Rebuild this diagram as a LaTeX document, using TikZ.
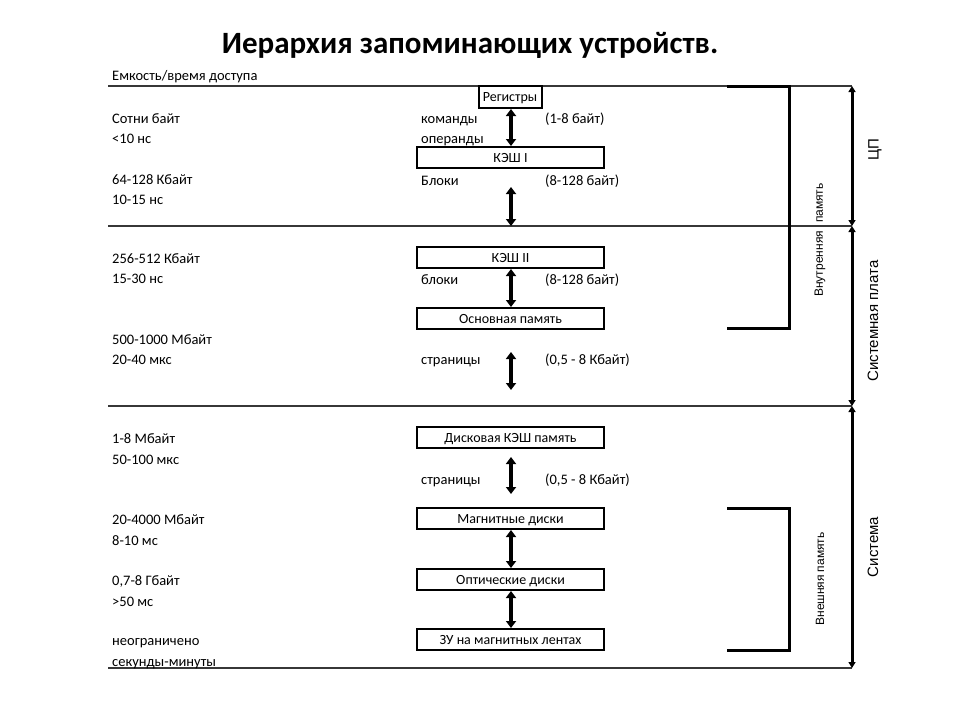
\documentclass[tikz,border=0pt]{standalone}
\usepackage{fontspec}
\setmainfont{Carlito}
\newfontfamily\arialfont{Liberation Sans}
\usepackage{tikz}
\usetikzlibrary{arrows.meta, positioning}
\definecolor{mydark}{RGB}{0,0,0}
\definecolor{mygray}{RGB}{55,55,55}
\tikzset{
  membox/.style={rectangle, draw=mydark, line width=2pt,
    minimum width=187pt, minimum height=21pt, inner sep=0pt,
    text height=11pt, text depth=2pt,
    font=\fontsize{14}{16}\selectfont},
  lbl/.style={anchor=base west, inner sep=0pt, font=\fontsize{14.5}{16}\selectfont},
  biarrow/.style={{Triangle[width=10pt,length=7pt]}-{Triangle[width=10pt,length=7pt]},
    line width=3.5pt, color=mydark},
  rangearrow/.style={{Triangle[width=7pt,length=6pt]}-{Triangle[width=7pt,length=6pt]},
    line width=3pt, color=mydark},
  tierline/.style={line width=1.2pt, color=mygray},
  bracket/.style={line width=3pt, color=mydark},
  sidetxt/.style={rotate=90, inner sep=0pt, font=\arialfont\fontsize{15}{17}\selectfont},
  subtxt/.style={rotate=90, inner sep=0pt, font=\arialfont\fontsize{12}{14}\selectfont}
}

\begin{document}
\begin{tikzpicture}[x=1pt, y=-1pt]
  \useasboundingbox (0,0) rectangle (960,720);

  \node[font=\bfseries\fontsize{31}{35}\selectfont] (title) at (470,45) {Иерархия запоминающих устройств.};
  \node[lbl] (head) at (112,80) {Емкость/время доступа};

  % levels
  \coordinate (cpuTop) at (852,86);
  \coordinate (cpuBot) at (852,226);
  \coordinate (brdBot) at (852,406);
  \coordinate (sysBot) at (852,668);
  \draw[tierline] (108,86) -- (cpuTop);
  \draw[tierline] (108,226) -- (cpuBot);
  \draw[tierline] (108,406) -- (brdBot);
  \draw[tierline] (108,668) -- (sysBot);

  % capacity / access time
  \node[lbl] (cap1) at (112,123) {Сотни байт};
  \node[lbl] (tim1) at (112,143) {<10 нс};
  \node[lbl] (cap2) at (112,184) {64-128 Кбайт};
  \node[lbl] (tim2) at (112,204) {10-15 нс};
  \node[lbl] (cap3) at (112,263) {256-512 Кбайт};
  \node[lbl] (tim3) at (112,283) {15-30 нс};
  \node[lbl] (cap4) at (112,344) {500-1000 Мбайт};
  \node[lbl] (tim4) at (112,364) {20-40 мкс};
  \node[lbl] (cap5) at (112,443) {1-8 Мбайт};
  \node[lbl] (tim5) at (112,464) {50-100 мкс};
  \node[lbl] (cap6) at (112,524) {20-4000 Мбайт};
  \node[lbl] (tim6) at (112,545) {8-10 мс};
  \node[lbl] (cap7) at (112,585) {0,7-8 Гбайт};
  \node[lbl] (tim7) at (112,606) {>50 мс};
  \node[lbl] (cap8) at (112,645) {неограничено};
  \node[lbl] (tim8) at (112,666) {секунды-минуты};

  % memory units
  \node[membox, minimum width=63pt, minimum height=22pt] (reg) at (510,97) {Регистры};
  \node[membox] (kesh1) at (510.5,157.5) {КЭШ I};
  \node[membox] (kesh2) at (510.5,257.5) {КЭШ II};
  \node[membox] (ram) at (510.5,318.5) {Основная память};
  \node[membox] (diskc) at (510.5,437.5) {Дисковая КЭШ память};
  \node[membox] (magd) at (510.5,518.5) {Магнитные диски};
  \node[membox] (optd) at (510.5,579.5) {Оптические диски};
  \node[membox] (tape) at (510.5,639.5) {ЗУ на магнитных лентах};

  % transfer units
  \node[lbl] (cmd) at (421,123) {команды};
  \node[lbl] (opd) at (421,143) {операнды};
  \node[lbl] (sz1) at (545,123) {(1-8 байт)};
  \node[lbl] (blk1) at (421,185) {Блоки};
  \node[lbl] (sz2) at (545,185) {(8-128 байт)};
  \node[lbl] (blk2) at (421,284) {блоки};
  \node[lbl] (sz3) at (545,284) {(8-128 байт)};
  \node[lbl] (pg1) at (421,364) {страницы};
  \node[lbl] (sz4) at (545,364) {(0,5 - 8 Кбайт)};
  \node[lbl] (pg2) at (421,484) {страницы};
  \node[lbl] (sz5) at (545,484) {(0,5 - 8 Кбайт)};

  \coordinate (a1top) at (511,187);
  \coordinate (a1bot) at (511,226);
  \coordinate (a2top) at (511,352);
  \coordinate (a2bot) at (511,390);
  \coordinate (a3top) at (511,457);
  \coordinate (a3bot) at (511,494);

  \draw[biarrow] (reg.south -| a1top) -- (kesh1.north -| a1top);
  \draw[biarrow] (a1top) -- (a1bot);
  \draw[biarrow] (kesh2.south -| a1top) -- (ram.north -| a1top);
  \draw[biarrow] (a2top) -- (a2bot);
  \draw[biarrow] (a3top) -- (a3bot);
  \draw[biarrow] (magd.south -| a1top) -- (optd.north -| a1top);
  \draw[biarrow] (optd.south -| a1top) -- (tape.north -| a1top);

  % memory kinds
  \draw[bracket] (727,86) -- (789,86) -- (789,328) -- (727,328);
  \draw[bracket] (727,508) -- (789,508) -- (789,650) -- (727,650);
  \node[subtxt] (inmem) at (820,240) {Внутренняя\hspace{8pt}память};
  \node[subtxt] (outmem) at (820,579) {Внешняя\hspace{3pt}память};

  % placement
  \draw[rangearrow] (cpuTop) -- (cpuBot);
  \draw[rangearrow] (cpuBot) -- (brdBot);
  \draw[rangearrow] (brdBot) -- (sysBot);
  \node[sidetxt] (cpu) at (875,150) {ЦП};
  \node[sidetxt] (board) at (873,321) {Системная плата};
  \node[sidetxt] (sys) at (873,547) {Система};
\end{tikzpicture}
\end{document}
